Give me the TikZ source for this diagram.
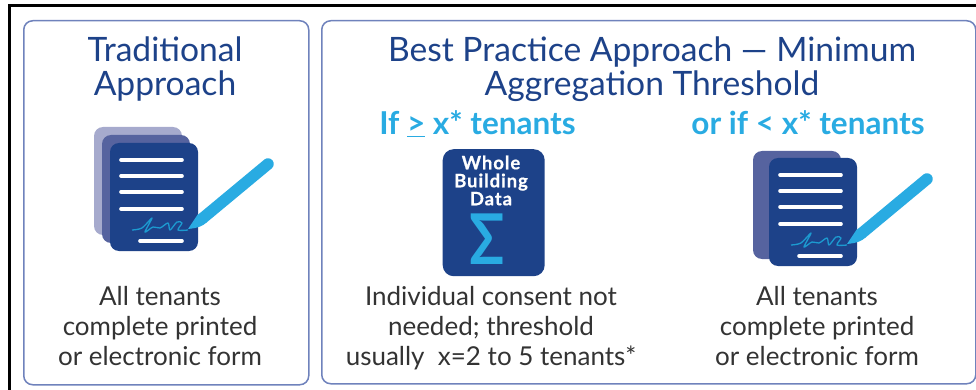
\documentclass[tikz,border=0pt]{standalone}
\usepackage{fontspec}
\setmainfont{Lato}
\definecolor{navy}{HTML}{1D4289}
\definecolor{sky}{HTML}{29ABE2}
\definecolor{boxline}{HTML}{6F82BC}
\definecolor{bodytxt}{HTML}{333333}
\definecolor{backlight}{HTML}{A6AACD}
\definecolor{backmid}{HTML}{56639F}
\definecolor{signink}{HTML}{1C9AD0}
\tikzset{
  x=1pt,y=-1pt,
  panel/.style={draw=boxline,line width=1.5pt,rounded corners=9pt},
  page/.style={rounded corners=9pt},
  docline/.style={white,line width=3.6pt,line cap=round},
  pen/.style={sky,line width=11.5pt,line cap=round},
  titletxt/.style={text=navy,align=center,font=\fontsize{33.6}{34}\selectfont,anchor=north},
  subtxt/.style={text=sky,font=\bfseries\fontsize{31.5}{32}\selectfont,anchor=base},
  bodynode/.style={text=bodytxt,align=center,font=\fontsize{26}{30}\selectfont,anchor=north},
}
\newcommand{\docicon}[2]{%
  \begin{scope}[shift={(#1,#2)}]
    \fill[navy,page] (110,143) rectangle (198,251);
    \foreach \yy in {160,176,192,209} \draw[docline] (121,\yy) -- (182,\yy);
    \draw[docline] (140,241) -- (182,241);
    \draw[pen] (203,218) -- (268,164);
    \fill[sky] (188,229) -- (198,214) -- (207,222) .. controls (203,226) and (198,228) .. cycle;
    \draw[signink,line width=1.3pt,line join=round] plot[smooth,tension=.5] coordinates
      {(132,230) (142,228) (152,218) (145,232) (153,227) (160,228) (168,223) (170,230) (177,222) (182,223) (178,230) (188,230)};
  \end{scope}}
\begin{document}
\begin{tikzpicture}
\useasboundingbox (0,0) rectangle (976,390);
\coordinate (frameBL) at (9.5,390);
\coordinate (frameTL) at (9.5,6);
\coordinate (frameTR) at (976,6);
\draw[black,line width=3pt] (frameBL) -- (frameTL) -- (frameTR);
\node[panel,minimum width=285pt,minimum height=364pt,anchor=north west,inner sep=0pt] (left) at (23,20) {};
\node[panel,minimum width=654pt,minimum height=363pt,anchor=north west,inner sep=0pt] (right) at (321,20) {};
\node[titletxt] (t1) at (165,33) {Traditional\\Approach};
\node[titletxt] (t2) at (652,33) {Best Practice Approach — Minimum\\Aggregation Threshold};
\node[subtxt] (s1) at (477.5,135) {If \underline{>} x* tenants};
\node[subtxt] (s2) at (808,135) {or if < x* tenants};
% left icon back pages
\fill[backlight,page] (94,127) rectangle (182,235);
\fill[backmid,page] (102,135) rectangle (190,243);
\docicon{0}{0}
% right icon
\fill[backmid,page] (753,151) rectangle (841,259);
\docicon{659}{15}
% data card
\node[fill=navy,rounded corners=11pt,minimum width=102pt,minimum height=127pt,anchor=north west,inner sep=0pt] (card) at (442.5,149) {};
\node[text=white,align=center,font=\bfseries\fontsize{18.5}{18}\selectfont\addfontfeature{LetterSpace=5,FakeBold=0.6},anchor=north] (cardtxt) at (491,152) {Whole\\Building\\Data};
\node[text=sky,font=\bfseries\fontsize{68}{68}\selectfont,anchor=base,inner sep=0pt] (sigma) at (487.5,264) {\scalebox{0.85}[1.03]{Σ}};
\node[bodynode] (b1) at (160,283) {All tenants\\complete printed\\or electronic form};
\node[bodynode] (b2) at (491,283) {Individual consent not\\needed; threshold\\usually\ \ x=2 to 5 tenants*};
\node[bodynode] (b3) at (817,283) {All tenants\\complete printed\\or electronic form};
\end{tikzpicture}
\end{document}
